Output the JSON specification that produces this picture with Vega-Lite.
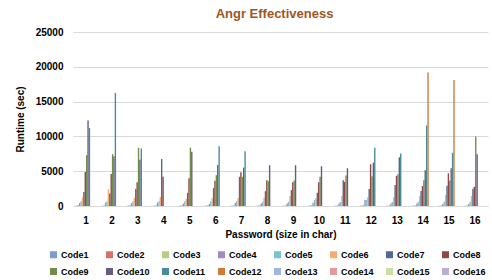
{
"$schema":"https://vega.github.io/schema/vega-lite/v6.json",
"width":415,"height":174,
"autosize":{"type":"none"},
"padding":{"left":73,"top":32,"right":4,"bottom":74},
"background":"white",
"config":{"font":"Liberation Sans","view":{"stroke":null}},
"title":{"text":"Angr Effectiveness","fontSize":13,"fontWeight":"bold","color":"#A0561E","anchor":"middle","offset":6,"dx":-6},
"data":{"values":[
{"p":1,"c":"Code1","v":20},{"p":1,"c":"Code2","v":60},{"p":1,"c":"Code3","v":150},{"p":1,"c":"Code4","v":420},{"p":1,"c":"Code5","v":700},{"p":1,"c":"Code6","v":1250},{"p":1,"c":"Code7","v":2000},{"p":1,"c":"Code8","v":4900},{"p":1,"c":"Code9","v":7300},{"p":1,"c":"Code10","v":12300},{"p":1,"c":"Code11","v":11200},{"p":1,"c":"Code12","v":0},{"p":1,"c":"Code13","v":0},{"p":1,"c":"Code14","v":0},{"p":1,"c":"Code15","v":0},{"p":1,"c":"Code16","v":0},
{"p":2,"c":"Code1","v":20},{"p":2,"c":"Code2","v":50},{"p":2,"c":"Code3","v":120},{"p":2,"c":"Code4","v":480},{"p":2,"c":"Code5","v":700},{"p":2,"c":"Code6","v":2400},{"p":2,"c":"Code7","v":1800},{"p":2,"c":"Code8","v":4600},{"p":2,"c":"Code9","v":7450},{"p":2,"c":"Code10","v":7150},{"p":2,"c":"Code11","v":16250},{"p":2,"c":"Code12","v":0},{"p":2,"c":"Code13","v":0},{"p":2,"c":"Code14","v":0},{"p":2,"c":"Code15","v":0},{"p":2,"c":"Code16","v":0},
{"p":3,"c":"Code1","v":30},{"p":3,"c":"Code2","v":60},{"p":3,"c":"Code3","v":150},{"p":3,"c":"Code4","v":400},{"p":3,"c":"Code5","v":700},{"p":3,"c":"Code6","v":1200},{"p":3,"c":"Code7","v":2450},{"p":3,"c":"Code8","v":3430},{"p":3,"c":"Code9","v":8350},{"p":3,"c":"Code10","v":6660},{"p":3,"c":"Code11","v":8260},{"p":3,"c":"Code12","v":0},{"p":3,"c":"Code13","v":0},{"p":3,"c":"Code14","v":0},{"p":3,"c":"Code15","v":0},{"p":3,"c":"Code16","v":0},
{"p":4,"c":"Code1","v":20},{"p":4,"c":"Code2","v":50},{"p":4,"c":"Code3","v":120},{"p":4,"c":"Code4","v":480},{"p":4,"c":"Code5","v":700},{"p":4,"c":"Code6","v":1290},{"p":4,"c":"Code7","v":6760},{"p":4,"c":"Code8","v":4190},{"p":4,"c":"Code9","v":0},{"p":4,"c":"Code10","v":0},{"p":4,"c":"Code11","v":0},{"p":4,"c":"Code12","v":0},{"p":4,"c":"Code13","v":0},{"p":4,"c":"Code14","v":0},{"p":4,"c":"Code15","v":0},{"p":4,"c":"Code16","v":0},
{"p":5,"c":"Code1","v":20},{"p":5,"c":"Code2","v":50},{"p":5,"c":"Code3","v":130},{"p":5,"c":"Code4","v":350},{"p":5,"c":"Code5","v":700},{"p":5,"c":"Code6","v":1050},{"p":5,"c":"Code7","v":1900},{"p":5,"c":"Code8","v":4000},{"p":5,"c":"Code9","v":8380},{"p":5,"c":"Code10","v":7800},{"p":5,"c":"Code11","v":0},{"p":5,"c":"Code12","v":0},{"p":5,"c":"Code13","v":0},{"p":5,"c":"Code14","v":0},{"p":5,"c":"Code15","v":0},{"p":5,"c":"Code16","v":0},
{"p":6,"c":"Code1","v":20},{"p":6,"c":"Code2","v":50},{"p":6,"c":"Code3","v":130},{"p":6,"c":"Code4","v":300},{"p":6,"c":"Code5","v":700},{"p":6,"c":"Code6","v":1100},{"p":6,"c":"Code7","v":2570},{"p":6,"c":"Code8","v":3620},{"p":6,"c":"Code9","v":4430},{"p":6,"c":"Code10","v":5900},{"p":6,"c":"Code11","v":8570},{"p":6,"c":"Code12","v":0},{"p":6,"c":"Code13","v":0},{"p":6,"c":"Code14","v":0},{"p":6,"c":"Code15","v":0},{"p":6,"c":"Code16","v":0},
{"p":7,"c":"Code1","v":20},{"p":7,"c":"Code2","v":50},{"p":7,"c":"Code3","v":120},{"p":7,"c":"Code4","v":450},{"p":7,"c":"Code5","v":700},{"p":7,"c":"Code6","v":1140},{"p":7,"c":"Code7","v":4190},{"p":7,"c":"Code8","v":4860},{"p":7,"c":"Code9","v":4200},{"p":7,"c":"Code10","v":5520},{"p":7,"c":"Code11","v":7850},{"p":7,"c":"Code12","v":0},{"p":7,"c":"Code13","v":0},{"p":7,"c":"Code14","v":0},{"p":7,"c":"Code15","v":0},{"p":7,"c":"Code16","v":0},
{"p":8,"c":"Code1","v":20},{"p":8,"c":"Code2","v":50},{"p":8,"c":"Code3","v":110},{"p":8,"c":"Code4","v":350},{"p":8,"c":"Code5","v":600},{"p":8,"c":"Code6","v":1200},{"p":8,"c":"Code7","v":2140},{"p":8,"c":"Code8","v":3710},{"p":8,"c":"Code9","v":3570},{"p":8,"c":"Code10","v":5860},{"p":8,"c":"Code11","v":0},{"p":8,"c":"Code12","v":0},{"p":8,"c":"Code13","v":0},{"p":8,"c":"Code14","v":0},{"p":8,"c":"Code15","v":0},{"p":8,"c":"Code16","v":0},
{"p":9,"c":"Code1","v":20},{"p":9,"c":"Code2","v":50},{"p":9,"c":"Code3","v":110},{"p":9,"c":"Code4","v":350},{"p":9,"c":"Code5","v":600},{"p":9,"c":"Code6","v":1430},{"p":9,"c":"Code7","v":2280},{"p":9,"c":"Code8","v":3430},{"p":9,"c":"Code9","v":3660},{"p":9,"c":"Code10","v":5860},{"p":9,"c":"Code11","v":0},{"p":9,"c":"Code12","v":0},{"p":9,"c":"Code13","v":0},{"p":9,"c":"Code14","v":0},{"p":9,"c":"Code15","v":0},{"p":9,"c":"Code16","v":0},
{"p":10,"c":"Code1","v":20},{"p":10,"c":"Code2","v":50},{"p":10,"c":"Code3","v":130},{"p":10,"c":"Code4","v":450},{"p":10,"c":"Code5","v":860},{"p":10,"c":"Code6","v":1100},{"p":10,"c":"Code7","v":1900},{"p":10,"c":"Code8","v":3430},{"p":10,"c":"Code9","v":4190},{"p":10,"c":"Code10","v":5710},{"p":10,"c":"Code11","v":0},{"p":10,"c":"Code12","v":0},{"p":10,"c":"Code13","v":0},{"p":10,"c":"Code14","v":0},{"p":10,"c":"Code15","v":0},{"p":10,"c":"Code16","v":0},
{"p":11,"c":"Code1","v":20},{"p":11,"c":"Code2","v":50},{"p":11,"c":"Code3","v":110},{"p":11,"c":"Code4","v":350},{"p":11,"c":"Code5","v":600},{"p":11,"c":"Code6","v":1430},{"p":11,"c":"Code7","v":3710},{"p":11,"c":"Code8","v":3470},{"p":11,"c":"Code9","v":4380},{"p":11,"c":"Code10","v":5430},{"p":11,"c":"Code11","v":0},{"p":11,"c":"Code12","v":0},{"p":11,"c":"Code13","v":0},{"p":11,"c":"Code14","v":0},{"p":11,"c":"Code15","v":0},{"p":11,"c":"Code16","v":0},
{"p":12,"c":"Code1","v":20},{"p":12,"c":"Code2","v":60},{"p":12,"c":"Code3","v":150},{"p":12,"c":"Code4","v":860},{"p":12,"c":"Code5","v":860},{"p":12,"c":"Code6","v":1240},{"p":12,"c":"Code7","v":2430},{"p":12,"c":"Code8","v":6000},{"p":12,"c":"Code9","v":4280},{"p":12,"c":"Code10","v":6240},{"p":12,"c":"Code11","v":8380},{"p":12,"c":"Code12","v":0},{"p":12,"c":"Code13","v":0},{"p":12,"c":"Code14","v":0},{"p":12,"c":"Code15","v":0},{"p":12,"c":"Code16","v":0},
{"p":13,"c":"Code1","v":20},{"p":13,"c":"Code2","v":50},{"p":13,"c":"Code3","v":120},{"p":13,"c":"Code4","v":350},{"p":13,"c":"Code5","v":600},{"p":13,"c":"Code6","v":1240},{"p":13,"c":"Code7","v":3000},{"p":13,"c":"Code8","v":4330},{"p":13,"c":"Code9","v":4570},{"p":13,"c":"Code10","v":7000},{"p":13,"c":"Code11","v":7550},{"p":13,"c":"Code12","v":0},{"p":13,"c":"Code13","v":0},{"p":13,"c":"Code14","v":0},{"p":13,"c":"Code15","v":0},{"p":13,"c":"Code16","v":0},
{"p":14,"c":"Code1","v":20},{"p":14,"c":"Code2","v":50},{"p":14,"c":"Code3","v":120},{"p":14,"c":"Code4","v":350},{"p":14,"c":"Code5","v":600},{"p":14,"c":"Code6","v":1430},{"p":14,"c":"Code7","v":2140},{"p":14,"c":"Code8","v":2880},{"p":14,"c":"Code9","v":3710},{"p":14,"c":"Code10","v":5140},{"p":14,"c":"Code11","v":11570},{"p":14,"c":"Code12","v":19180},{"p":14,"c":"Code13","v":0},{"p":14,"c":"Code14","v":0},{"p":14,"c":"Code15","v":0},{"p":14,"c":"Code16","v":0},
{"p":15,"c":"Code1","v":20},{"p":15,"c":"Code2","v":50},{"p":15,"c":"Code3","v":120},{"p":15,"c":"Code4","v":300},{"p":15,"c":"Code5","v":600},{"p":15,"c":"Code6","v":1570},{"p":15,"c":"Code7","v":2900},{"p":15,"c":"Code8","v":4700},{"p":15,"c":"Code9","v":3650},{"p":15,"c":"Code10","v":5430},{"p":15,"c":"Code11","v":7640},{"p":15,"c":"Code12","v":18090},{"p":15,"c":"Code13","v":0},{"p":15,"c":"Code14","v":0},{"p":15,"c":"Code15","v":0},{"p":15,"c":"Code16","v":0},
{"p":16,"c":"Code1","v":20},{"p":16,"c":"Code2","v":50},{"p":16,"c":"Code3","v":120},{"p":16,"c":"Code4","v":300},{"p":16,"c":"Code5","v":600},{"p":16,"c":"Code6","v":1430},{"p":16,"c":"Code7","v":2480},{"p":16,"c":"Code8","v":2760},{"p":16,"c":"Code9","v":10000},{"p":16,"c":"Code10","v":7450},{"p":16,"c":"Code11","v":0},{"p":16,"c":"Code12","v":0},{"p":16,"c":"Code13","v":0},{"p":16,"c":"Code14","v":0},{"p":16,"c":"Code15","v":0},{"p":16,"c":"Code16","v":0}
]},
"mark":{"type":"bar"},
"encoding":{
"x":{"field":"p","type":"ordinal","scale":{"paddingInner":0.14,"paddingOuter":0.07},
"axis":{"title":"Password (size in char)","labelAngle":0,"labelFontSize":10,"labelFontWeight":"bold","labelColor":"#000","labelPadding":9,"tickSize":0,"ticks":false,"domainColor":"#D9D9D9","titleFontSize":10,"titleFontWeight":"bold","titleColor":"#000","titlePadding":4}},
"xOffset":{"field":"c","type":"nominal","sort":["Code1","Code2","Code3","Code4","Code5","Code6","Code7","Code8","Code9","Code10","Code11","Code12","Code13","Code14","Code15","Code16"],"scale":{"paddingInner":0,"paddingOuter":0}},
"y":{"field":"v","type":"quantitative","scale":{"domain":[0,25000]},
"axis":{"title":"Runtime (sec)","values":[0,5000,10000,15000,20000,25000],"format":"d","domain":false,"ticks":false,"tickSize":0,"labelPadding":10,"labelFontSize":10,"labelFontWeight":"bold","labelColor":"#000","gridColor":"#D9D9D9","titleFontSize":10,"titleFontWeight":"bold","titleColor":"#000","titlePadding":10}},
"color":{"field":"c","type":"nominal","sort":["Code1","Code2","Code3","Code4","Code5","Code6","Code7","Code8","Code9","Code10","Code11","Code12","Code13","Code14","Code15","Code16"],
"scale":{"domain":["Code1","Code2","Code3","Code4","Code5","Code6","Code7","Code8","Code9","Code10","Code11","Code12","Code13","Code14","Code15","Code16"],
"range":["#7B9BD0","#D3726F","#B3CF84","#A08CC0","#78C2D6","#F8AC72","#506A91","#8E4846","#748C4A","#6A5A80","#4A8C9A","#D07A3A","#9DB7E0","#E09B99","#CADFA4","#BDAED6"]},
"legend":{"title":null,"orient":"none","legendX":-24,"legendY":218,"direction":"horizontal","columns":8,"gridAlign":"all","symbolType":"square","symbolSize":49,"symbolStrokeWidth":0,"labelFontSize":9,"labelFontWeight":"bold","labelColor":"#000","labelOffset":3,"columnPadding":11,"rowPadding":7,"padding":0}}
}
}
